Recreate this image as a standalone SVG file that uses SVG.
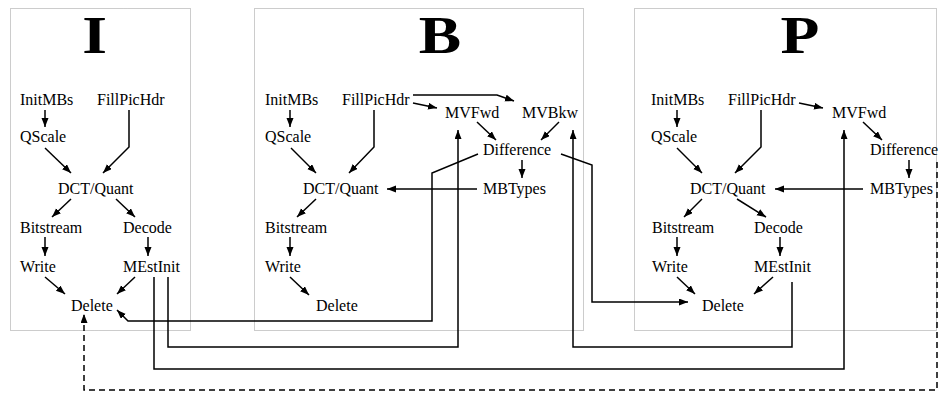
<svg xmlns="http://www.w3.org/2000/svg" width="939" height="393" viewBox="0 0 939 393">
  <style>
    .panel { fill: none; stroke: #999; stroke-width: 1; stroke-dasharray: 1 1; }
    .title { font-family: "Liberation Serif", "Times New Roman", serif; font-size: 53px; font-weight: bold; fill: #000; text-anchor: middle; }
    .lbl { font-family: "Liberation Serif", "Times New Roman", serif; font-size: 16px; fill: #000; }
    .edge { fill: none; stroke: #000; stroke-width: 1.5; marker-end: url(#arrow); }
    .dash { fill: none; stroke: #000; stroke-width: 1.5; stroke-dasharray: 6 4; marker-end: url(#arrow); }
  </style>
  <defs>
    <marker id="arrow" markerUnits="userSpaceOnUse" markerWidth="10" markerHeight="8" refX="9" refY="3.5" orient="auto">
      <path d="M0,0 L9,3.5 L0,7 z" fill="#000"/>
    </marker>
  </defs>
  <rect width="939" height="393" fill="#fff"/>

  <!-- picture-type panels -->
  <g id="panel-I">
    <rect class="panel" x="10.5" y="8.5" width="180" height="322"/>
    <text class="title" transform="translate(94.7,53) scale(1.2,1)">I</text>
  </g>
  <g id="panel-B">
    <rect class="panel" x="254.5" y="8.5" width="329" height="322"/>
    <text class="title" transform="translate(440,53) scale(1.2,1)">B</text>
  </g>
  <g id="panel-P">
    <rect class="panel" x="634.5" y="8.5" width="302" height="322"/>
    <text class="title" transform="translate(800,53) scale(1.2,1)">P</text>
  </g>

  <!-- I frame tasks -->
  <g id="I-InitMBs"><text class="lbl" x="20" y="105">InitMBs</text></g>
  <g id="I-FillPicHdr"><text class="lbl" x="97" y="105">FillPicHdr</text></g>
  <g id="I-QScale"><text class="lbl" x="20" y="142">QScale</text></g>
  <g id="I-DCTQuant"><text class="lbl" x="58" y="194">DCT/Quant</text></g>
  <g id="I-Bitstream"><text class="lbl" x="20" y="233">Bitstream</text></g>
  <g id="I-Decode"><text class="lbl" x="123" y="233">Decode</text></g>
  <g id="I-Write"><text class="lbl" x="20" y="272">Write</text></g>
  <g id="I-MEstInit"><text class="lbl" x="123" y="272">MEstInit</text></g>
  <g id="I-Delete"><text class="lbl" x="71" y="311">Delete</text></g>

  <!-- B frame tasks -->
  <g id="B-InitMBs"><text class="lbl" x="265" y="105">InitMBs</text></g>
  <g id="B-FillPicHdr"><text class="lbl" x="342" y="105">FillPicHdr</text></g>
  <g id="B-MVFwd"><text class="lbl" x="445" y="118">MVFwd</text></g>
  <g id="B-MVBkw"><text class="lbl" x="522" y="118">MVBkw</text></g>
  <g id="B-QScale"><text class="lbl" x="265" y="142">QScale</text></g>
  <g id="B-Difference"><text class="lbl" x="483" y="155">Difference</text></g>
  <g id="B-DCTQuant"><text class="lbl" x="303" y="194">DCT/Quant</text></g>
  <g id="B-MBTypes"><text class="lbl" x="483" y="194">MBTypes</text></g>
  <g id="B-Bitstream"><text class="lbl" x="265" y="233">Bitstream</text></g>
  <g id="B-Write"><text class="lbl" x="265" y="272">Write</text></g>
  <g id="B-Delete"><text class="lbl" x="316" y="311">Delete</text></g>

  <!-- P frame tasks -->
  <g id="P-InitMBs"><text class="lbl" x="651" y="105">InitMBs</text></g>
  <g id="P-FillPicHdr"><text class="lbl" x="728" y="105">FillPicHdr</text></g>
  <g id="P-MVFwd"><text class="lbl" x="832" y="118">MVFwd</text></g>
  <g id="P-QScale"><text class="lbl" x="651" y="142">QScale</text></g>
  <g id="P-Difference"><text class="lbl" x="870" y="155">Difference</text></g>
  <g id="P-DCTQuant"><text class="lbl" x="690" y="194">DCT/Quant</text></g>
  <g id="P-MBTypes"><text class="lbl" x="870" y="194">MBTypes</text></g>
  <g id="P-Bitstream"><text class="lbl" x="652" y="233">Bitstream</text></g>
  <g id="P-Decode"><text class="lbl" x="754" y="233">Decode</text></g>
  <g id="P-Write"><text class="lbl" x="652" y="272">Write</text></g>
  <g id="P-MEstInit"><text class="lbl" x="754" y="272">MEstInit</text></g>
  <g id="P-Delete"><text class="lbl" x="702" y="311">Delete</text></g>

  <!-- dependencies -->
  <g id="connectors">
    <!-- I frame -->
    <path class="edge" d="M45,110 L45,127"/>
    <path class="edge" d="M45,148 L71,173"/>
    <path class="edge" d="M129,110 L129,147 L103,173"/>
    <path class="edge" d="M71,199 L52,217"/>
    <path class="edge" d="M116,199 L135,217"/>
    <path class="edge" d="M45,237 L45,256"/>
    <path class="edge" d="M148,237 L148,256"/>
    <path class="edge" d="M45,277 L65,294"/>
    <path class="edge" d="M135,277 L117,294"/>

    <!-- B frame -->
    <path class="edge" d="M290,110 L290,127"/>
    <path class="edge" d="M291,148 L316,173"/>
    <path class="edge" d="M374,110 L374,147 L349,173"/>
    <path class="edge" d="M413,103 L437,108"/>
    <path class="edge" d="M413,95 L497,95 L514,101"/>
    <path class="edge" d="M477,122 L496,140"/>
    <path class="edge" d="M559,122 L541,140"/>
    <path class="edge" d="M522,160 L522,178"/>
    <path class="edge" d="M477,189 L387,189"/>
    <path class="edge" d="M316,199 L297,217"/>
    <path class="edge" d="M290,237 L290,256"/>
    <path class="edge" d="M290,277 L309,295"/>

    <!-- P frame -->
    <path class="edge" d="M677,110 L677,127"/>
    <path class="edge" d="M677,148 L702,173"/>
    <path class="edge" d="M761,110 L761,147 L735,173"/>
    <path class="edge" d="M799,103 L823,108"/>
    <path class="edge" d="M863,122 L882,140"/>
    <path class="edge" d="M909,160 L909,178"/>
    <path class="edge" d="M863,189 L775,189"/>
    <path class="edge" d="M702,199 L684,217"/>
    <path class="edge" d="M737,199 L766,217"/>
    <path class="edge" d="M677,237 L677,256"/>
    <path class="edge" d="M780,237 L780,256"/>
    <path class="edge" d="M677,277 L695,294"/>
    <path class="edge" d="M773,277 L754,294"/>

    <!-- cross-frame -->
    <path class="edge" d="M478,154 L432,173 L432,321 L128,321 L117,310"/>
    <path class="edge" d="M168,277 L168,347 L458,347 L458,130"/>
    <path class="edge" d="M154,277 L154,369 L844,369 L844,130"/>
    <path class="edge" d="M792,282 L792,347 L573,347 L573,130"/>
    <path class="edge" d="M561,154 L592,165 L592,302 L688,302"/>
    <path class="dash" d="M937,162 L937,390 L84,390 L84,314"/>
  </g>
</svg>
